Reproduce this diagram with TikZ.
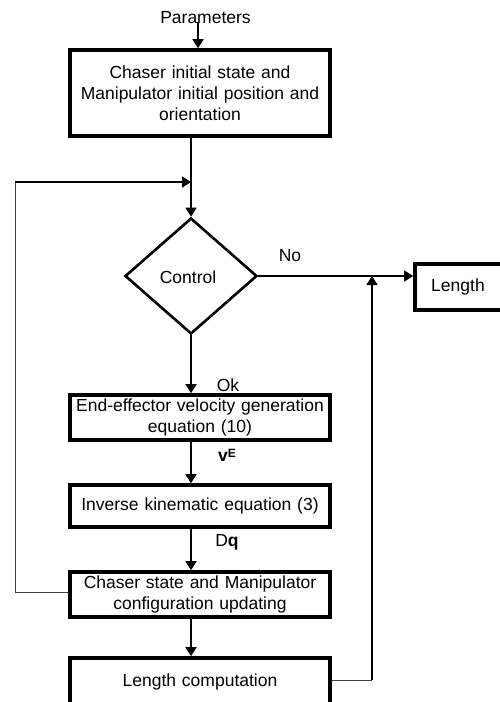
\documentclass[tikz,border=0pt]{standalone}
\usepackage{fontspec}
\setmainfont{Liberation Sans}
\usetikzlibrary{arrows.meta,shapes.geometric}
\begin{document}
\begin{tikzpicture}[x=1pt,y=-1pt,
  font=\fontsize{17.5}{21}\selectfont,
  procbox/.style={draw,line width=3.6pt,minimum width=260pt,inner sep=0pt,align=center,text width=258pt},
  decis/.style={draw,shape=diamond,line width=2.6pt,minimum width=132pt,minimum height=116pt,inner sep=0pt,aspect=1.14},
  flow/.style={line width=1.6pt,-{Triangle[width=11pt,length=9pt]}},
  thinline/.style={line width=1pt,black!75},
  lbl/.style={inner sep=0pt}
]
\useasboundingbox (0,0) rectangle (500,702);
\clip (0,0) rectangle (500,702);
\node[lbl] (par) at (205.5,18) {Parameters};
\coordinate (pin) at (198,22);
\node[procbox,minimum height=86pt] (b1) at (200,93) {Chaser initial state and\\Manipulator initial position and\\orientation};
\node[decis] (ctrl) at (191,276) {};
\node[lbl] (ctrltxt) at (188,277) {Control};
\node[draw,line width=3.6pt,minimum width=87pt,minimum height=46pt,inner sep=0pt] (len) at (458.5,287) {};
\node[lbl] (lentxt) at (458,287) {Length};
\node[lbl] (no) at (290,256) {No};
\node[lbl] (ok) at (228,385) {Ok};
\node[procbox,minimum height=45pt] (b2) at (200,417.5) {End-effector velocity generation\\equation (10)};
\node[lbl] (ve) at (227,455) {\textbf{v}\raisebox{0.45ex}{\fontsize{12}{12}\selectfont\textbf{E}}};
\node[procbox,minimum height=42pt] (b3) at (200,506) {Inverse kinematic equation (3)};
\node[lbl] (dq) at (227,542) {D\textbf{q}};
\node[procbox,minimum height=45pt] (b4) at (200,594.5) {Chaser state and Manipulator\\configuration updating};
\node[procbox,minimum height=48pt] (b5) at (200,682) {Length computation};
\coordinate (lpA) at (15,592);
\coordinate (lpB) at (15,182);
\coordinate (lpJ) at (191,182);
\coordinate (rpA) at (372,680);
\coordinate (rpB) at (372,276);
% connectors
\draw[flow] (pin) -- (pin |- b1.north);
\draw[line width=1.6pt] (b1.south -| ctrl.north) -- (lpJ);
\draw[flow] (lpJ) -- (ctrl.north);
\draw[thinline] (b4.west |- lpA) -- (lpA) -- (lpB);
\draw[flow] (lpB) -- (lpJ);
\draw[flow] (ctrl.east) -- (ctrl.east -| len.west);
\draw[thinline] (b5.east |- rpA) -- (rpA);
\draw[flow] (rpA) -- (rpB);
\draw[flow] (ctrl.south) -- (ctrl.south |- b2.north);
\draw[flow] (b2.south -| ctrl.south) -- (ctrl.south |- b3.north);
\draw[flow] (b3.south -| ctrl.south) -- (ctrl.south |- b4.north);
\draw[flow] (b4.south -| ctrl.south) -- (ctrl.south |- b5.north);
\end{tikzpicture}
\end{document}
